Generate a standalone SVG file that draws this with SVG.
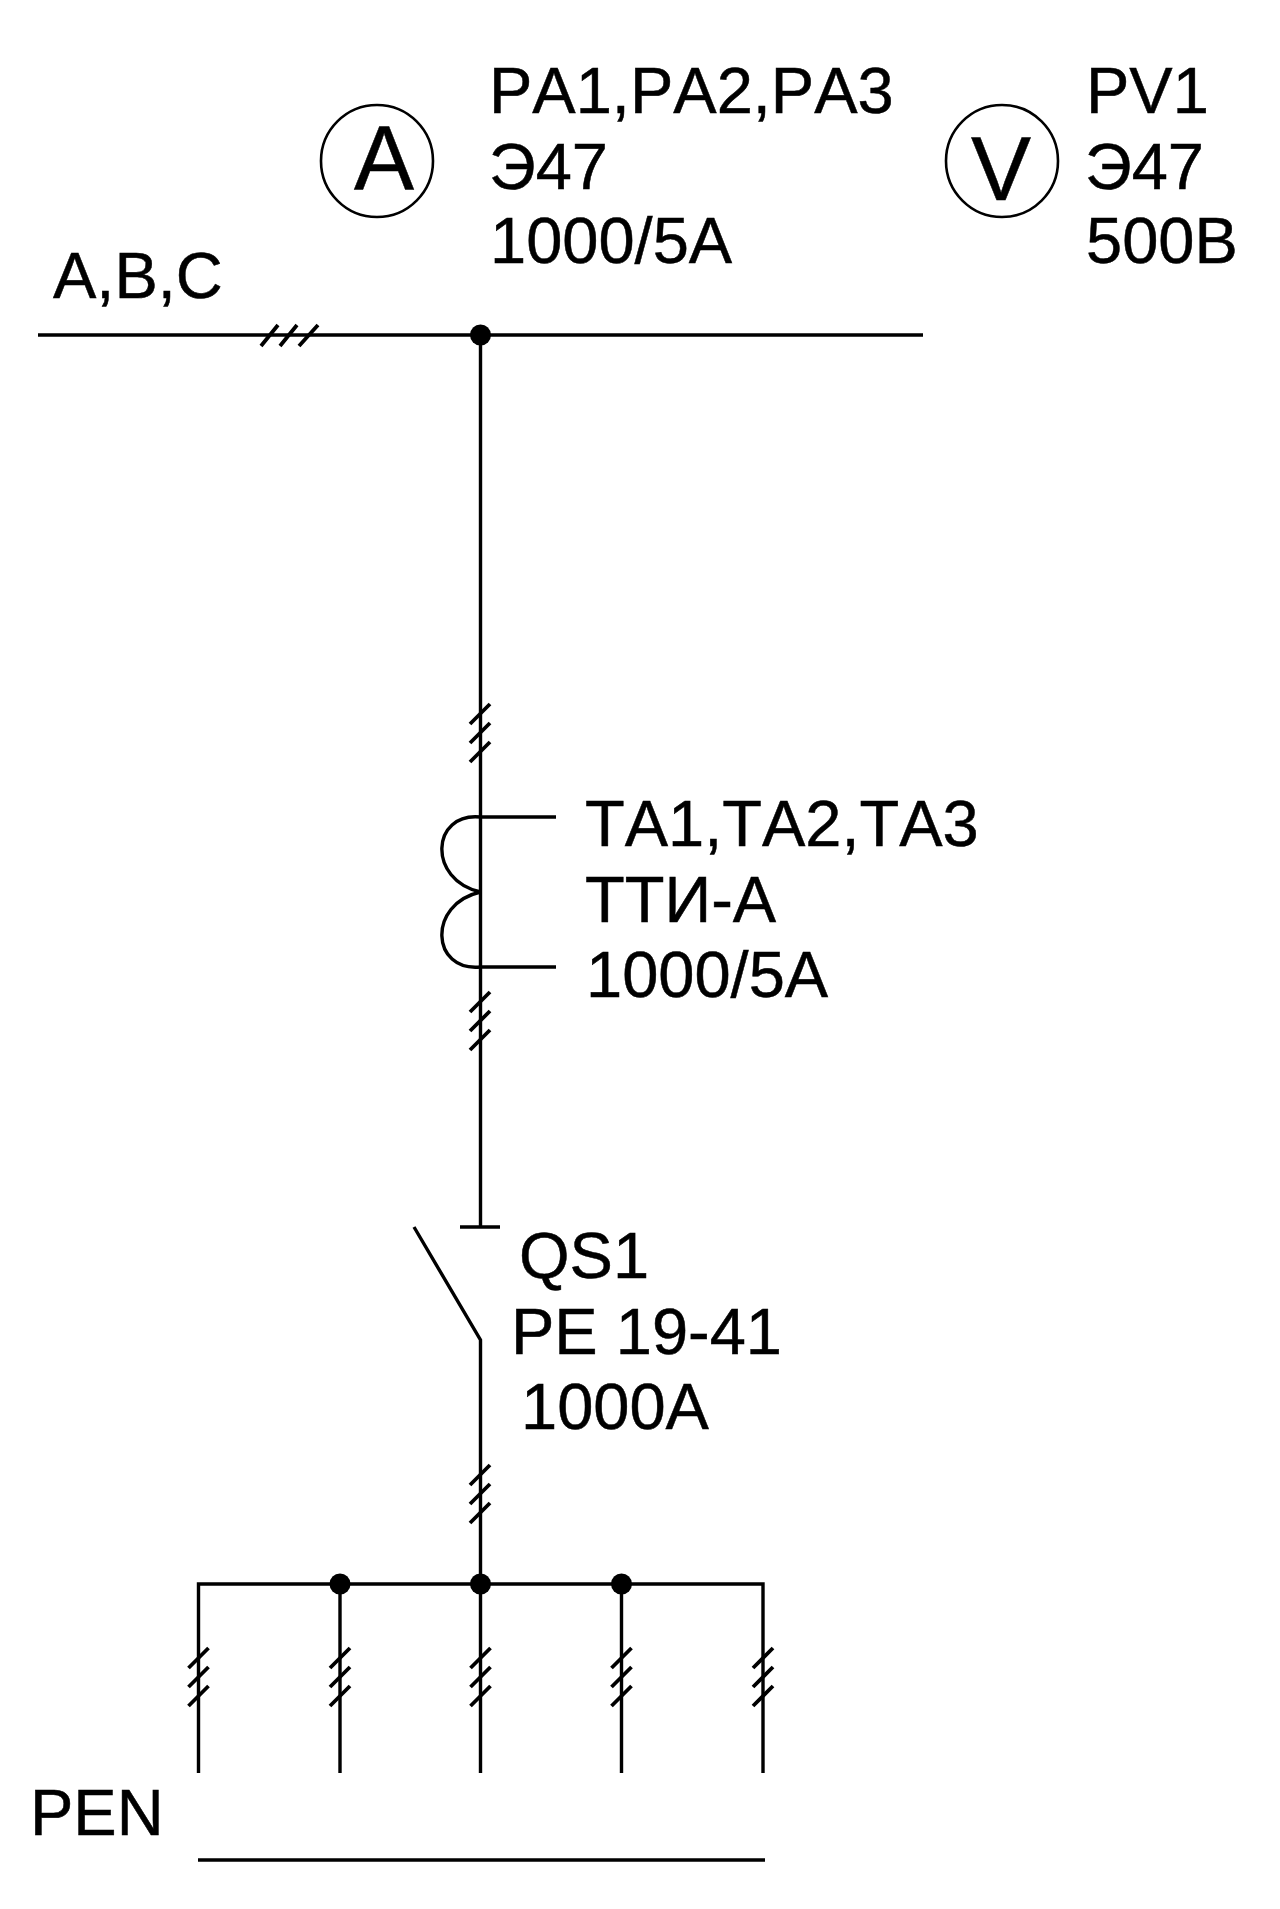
<svg xmlns="http://www.w3.org/2000/svg" width="1280" height="1909" viewBox="0 0 1280 1909">
<style>
text{font-family:"Liberation Sans",Arial,sans-serif;font-size:65px;fill:#000;stroke:#000;stroke-width:.5;font-kerning:none}
.big{font-size:90px;text-anchor:middle}
.w{fill:none;stroke:#000;stroke-width:3.4}
.t{fill:none;stroke:#000;stroke-width:3.8}
.c{fill:#fff;stroke:#000;stroke-width:2.6}
.d{fill:#000}
</style>
<defs>
<path id="ticks" class="t" d="M-10 20L10 0M-10 39L10 19M-10 58L10 38"/>
</defs>
<rect width="1280" height="1909" fill="#fff"/>
<g id="connectors">
<path class="w" d="M38 335H923M480.500 335V1227M460 1227H500M414 1227L480.500 1340V1773"/>
<path class="w" d="M480.500 817H556M480.500 967H556M480.500 817C431 812 427 880 480.500 892C427 904 431 972 480.500 967"/>
<path class="w" d="M198.500 1773V1584H763V1773M340 1584V1773M621.500 1584V1773M198 1860H765"/>
<path class="t" d="M261 346L278 325M280 346L297 325M299 346L318 325"/>
<use href="#ticks" x="480" y="704"/>
<use href="#ticks" x="480" y="992"/>
<use href="#ticks" x="480" y="1465"/>
<use href="#ticks" x="198.500" y="1648"/>
<use href="#ticks" x="340" y="1648"/>
<use href="#ticks" x="480.500" y="1648"/>
<use href="#ticks" x="621.500" y="1648"/>
<use href="#ticks" x="763" y="1648"/>
</g>
<g id="junctions">
<circle class="d" cx="480.500" cy="335" r="10.500"/>
<circle class="d" cx="340" cy="1584" r="10.500"/>
<circle class="d" cx="480.500" cy="1584" r="10.500"/>
<circle class="d" cx="621.500" cy="1584" r="10.500"/>
</g>
<g id="ammeter">
<circle class="c" cx="377" cy="161" r="56"/>
<text class="big" x="384" y="189">A</text>
<text x="489" y="113">PA1,PA2,PA3</text>
<text x="489" y="189">Э47</text>
<text x="490" y="263">1000/5А</text>
</g>
<g id="voltmeter">
<circle class="c" cx="1002" cy="161" r="56"/>
<text class="big" x="1001" y="200">V</text>
<text x="1086" y="113">PV1</text>
<text x="1085" y="189">Э47</text>
<text x="1086" y="263">500В</text>
</g>
<g id="bus-label"><text x="53" y="298">A,B,C</text></g>
<g id="current-transformer">
<text x="585" y="846">TA1,TA2,TA3</text>
<text x="585" y="922">ТТИ-А</text>
<text x="586" y="997">1000/5А</text>
</g>
<g id="switch">
<text x="519" y="1278">QS1</text>
<text x="511" y="1354">PE 19-41</text>
<text x="521" y="1429">1000A</text>
</g>
<g id="pen"><text x="30" y="1835">PEN</text></g>
</svg>
